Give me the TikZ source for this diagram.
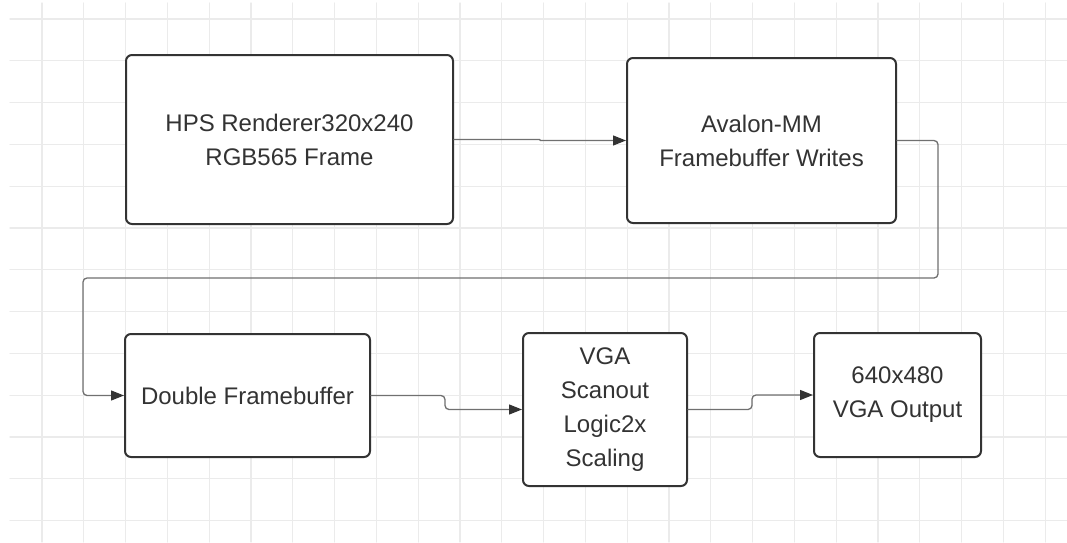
\documentclass[tikz,border=0pt]{standalone}
\usepackage{fontspec}
\setmainfont{Liberation Sans}
\usetikzlibrary{arrows.meta}
\definecolor{gridgray}{HTML}{EBEBEB}
\definecolor{boxgray}{HTML}{333333}
\definecolor{wiregray}{HTML}{707070}
\tikzset{
  every picture/.style={line join=round, line cap=round, >=Stealth},
  block/.style={draw=boxgray, line width=2pt, rounded corners=6pt, fill=white,
    align=center, text=boxgray, inner sep=0pt, font=\fontsize{24}{34}\selectfont},
  wire/.style={draw=wiregray, line width=1.3pt, rounded corners=4pt,
    -{Triangle[length=13pt,width=10pt,color=boxgray]}},
}
\begin{document}
\begin{tikzpicture}[x=1pt,y=-1pt]
\fill[white](0,0) rectangle (1067,542);
\useasboundingbox (0,0) rectangle (1067,542);
% background grid
\foreach \k in {0,...,24}
  \draw[gridgray,line width=1.2pt](42+41.8*\k,3)--(42+41.8*\k,542);
\foreach \k in {0,...,12}
  \draw[gridgray,line width=1.2pt](10,19+41.8*\k)--(1067,19+41.8*\k);
% blocks
\node[block,minimum width=327pt,minimum height=169pt](hps) at (289.5,139.5){HPS Renderer320x240\\RGB565 Frame};
\node[block,minimum width=269pt,minimum height=165pt](avalon) at (761.5,140.5){Avalon-MM\\Framebuffer Writes};
\node[block,minimum width=245pt,minimum height=123pt](dbuf) at (247.5,395.5){Double Framebuffer};
\node[block,minimum width=164pt,minimum height=153pt](scan) at (605,409.5){VGA\\Scanout\\Logic2x\\Scaling};
\node[block,minimum width=167pt,minimum height=124pt](vga) at (897.5,395){640x480\\VGA Output};
% wires
\coordinate (r) at (938,278);
\coordinate (l) at (83,278);
\draw[wire,rounded corners=0.4pt](hps.east)--++(86,0)|-(avalon.west);
\draw[wire](avalon.east)-|(r)--(l)|-(dbuf.west);
\draw[wire](dbuf.east)--++(74,0)|-(scan.west);
\draw[wire](scan.east)--++(64,0)|-(vga.west);
\end{tikzpicture}
\end{document}
